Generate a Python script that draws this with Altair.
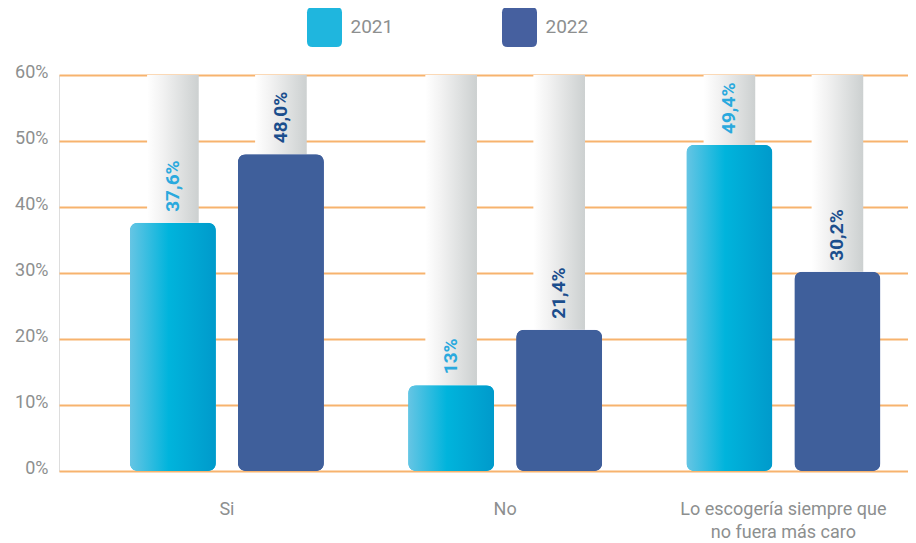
import altair as alt
import pandas as pd

categories = ["Si", "No", "Lo escogería siempre que\nno fuera más caro"]
years = ["2021", "2022"]
values_2021 = [37.6, 13.0, 49.4]
values_2022 = [48.0, 21.4, 30.2]
labels_2021 = ["37,6%", "13%", "49,4%"]
labels_2022 = ["48,0%", "21,4%", "30,2%"]
y_ticks = [0, 10, 20, 30, 40, 50, 60]

rows = []
for c, v, l in zip(categories, values_2021, labels_2021):
    rows.append({"cat": c, "year": "2021", "value": v, "label": l})
for c, v, l in zip(categories, values_2022, labels_2022):
    rows.append({"cat": c, "year": "2022", "value": v, "label": l})
df = pd.DataFrame(rows)

GREY_TXT = "#8d8f8f"
FONT = "Roboto"

x_enc = alt.X(
    "cat:N",
    sort=categories,
    scale=alt.Scale(paddingInner=0.3028, paddingOuter=0.177, align=0.72),
    axis=alt.Axis(
        title=None, domain=False, ticks=False, labelAngle=0,
        labelPadding=29, labelFontSize=18, labelColor=GREY_TXT,
        labelLineHeight=23, labelExpr="split(datum.label, '\\n')",
        labelFont=FONT, labelBaseline="top", labelLimit=400,
    ),
)
xo_enc = alt.XOffset("year:N", sort=years, scale=alt.Scale(paddingInner=0.2037, paddingOuter=0))
xo_col = alt.XOffset("year:N", sort=years, scale=alt.Scale(paddingInner=0.522, paddingOuter=0.159))
y_enc = alt.Y(
    "value:Q",
    scale=alt.Scale(domain=[0, 60], nice=False),
    axis=alt.Axis(
        title=None, values=y_ticks, labelExpr="datum.value + '%'",
        domain=False, ticks=False, grid=True, gridColor="#f7b36e", gridWidth=1.8,
        labelPadding=11, labelFontSize=18, labelColor=GREY_TXT, labelFont=FONT,
        labelOffset=-3,
    ),
)

base = alt.Chart(df)

grey_grad = alt.Gradient(
    gradient="linear", x1=0, y1=0, x2=1, y2=0,
    stops=[alt.GradientStop(offset=0, color="#ffffff"),
           alt.GradientStop(offset=0.3, color="#f2f2f2"),
           alt.GradientStop(offset=1, color="#ccd0d0")],
)
cyan_grad = alt.Gradient(
    gradient="linear", x1=0, y1=0, x2=1, y2=0,
    stops=[alt.GradientStop(offset=0, color="#66c5e4"),
           alt.GradientStop(offset=0.45, color="#00b4dc"),
           alt.GradientStop(offset=1, color="#009acb")],
)

columns = base.mark_bar(color=grey_grad).encode(
    x=x_enc, xOffset=xo_col, y=y_enc, y2=alt.datum(60)
)

rounded_rect = ("M -0.6 -1 L 0.6 -1 Q 0.875 -1 0.875 -0.72 L 0.875 0.72 Q 0.875 1 0.6 1 "
                "L -0.6 1 Q -0.875 1 -0.875 0.72 L -0.875 -0.72 Q -0.875 -1 -0.6 -1 Z")

bars = base.mark_bar(cornerRadius=8).encode(
    x=x_enc, xOffset=xo_enc, y=y_enc,
    color=alt.Color(
        "year:N", sort=years,
        scale=alt.Scale(domain=years, range=["#1fb6de", "#46609f"]),
        legend=alt.Legend(
            title=None, orient="none", direction="horizontal",
            legendX=245.5, legendY=-68,
            symbolType=rounded_rect, symbolSize=1600, symbolStrokeWidth=0,
            symbolOpacity=1,
            labelFontSize=19, labelColor=GREY_TXT, labelFont=FONT,
            labelOffset=6, columnPadding=106,
        ),
    ),
)

bars21 = base.transform_filter(alt.datum.year == "2021").mark_bar(
    cornerRadius=8, color=cyan_grad
).encode(x=x_enc, xOffset=xo_enc, y=y_enc)

bars22 = base.transform_filter(alt.datum.year == "2022").mark_bar(
    cornerRadius=8, color="#3f5f9b"
).encode(x=x_enc, xOffset=xo_enc, y=y_enc)

text21 = base.transform_filter(alt.datum.year == "2021").mark_text(
    angle=270, align="left", baseline="middle", dx=11,
    fontSize=19, fontWeight="bold", font=FONT, color="#2aa9de",
).encode(x=x_enc, xOffset=xo_enc, y=y_enc, text="label:N")

text22 = base.transform_filter(alt.datum.year == "2022").mark_text(
    angle=270, align="left", baseline="middle", dx=11,
    fontSize=19, fontWeight="bold", font=FONT, color="#1b4e8d",
).encode(x=x_enc, xOffset=xo_enc, y=y_enc, text="label:N")

fg = alt.layer(bars, bars21, bars22, text21, text22)

chart = alt.layer(columns, fg).resolve_scale(xOffset="independent").properties(
    width=849, height=396,
    autosize=alt.AutoSizeParams(type="none"),
    padding={"left": 51, "top": 67, "right": 0, "bottom": 72},
).configure_view(stroke=None).configure(font=FONT)

chart.save("out.html", embed_options={"renderer": "svg", "actions": False})
